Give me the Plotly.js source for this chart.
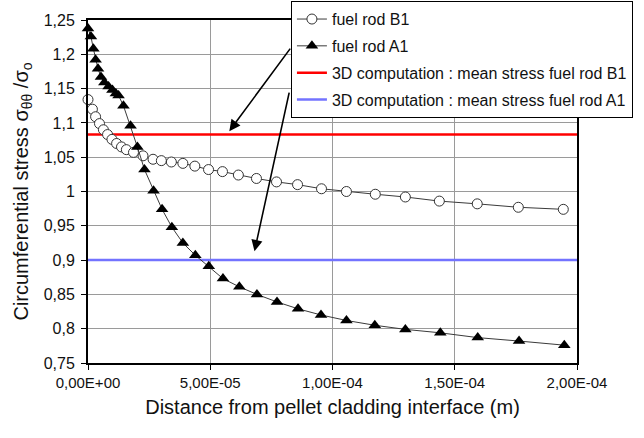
<!DOCTYPE html>
<html>
<head>
<meta charset="utf-8">
<script src="https://cdn.plot.ly/plotly-3.0.1.min.js"></script>
<style>html,body{margin:0;padding:0;background:#fff;}#chart{width:644px;height:438px;}</style>
</head>
<body>
<div id="chart"></div>
<script>
// Distance from pellet cladding interface (m)
const b1X = [0, 1.8e-6, 3.1e-6, 4.7e-6, 6.3e-6, 8.0e-6, 9.8e-6, 1.17e-5, 1.37e-5, 1.57e-5, 1.86e-5, 2.25e-5, 2.66e-5, 3.00e-5, 3.41e-5, 3.88e-5, 4.37e-5, 4.93e-5, 5.50e-5, 6.15e-5, 6.89e-5, 7.71e-5, 8.57e-5, 9.55e-5, 1.057e-4, 1.175e-4, 1.298e-4, 1.437e-4, 1.592e-4, 1.760e-4, 1.944e-4];
const b1Y = [1.134, 1.120, 1.109, 1.099, 1.090, 1.083, 1.076, 1.070, 1.065, 1.061, 1.057, 1.052, 1.047, 1.045, 1.043, 1.041, 1.037, 1.032, 1.029, 1.024, 1.019, 1.014, 1.010, 1.004, 1.000, 0.996, 0.992, 0.986, 0.982, 0.977, 0.974];
const a1X = [0, 1.2e-6, 2.2e-6, 3.1e-6, 4.1e-6, 5.3e-6, 6.7e-6, 8.4e-6, 1.00e-5, 1.14e-5, 1.25e-5, 1.45e-5, 1.74e-5, 2.02e-5, 2.31e-5, 2.68e-5, 3.03e-5, 3.43e-5, 3.88e-5, 4.39e-5, 4.94e-5, 5.52e-5, 6.19e-5, 6.91e-5, 7.73e-5, 8.59e-5, 9.53e-5, 1.057e-4, 1.173e-4, 1.298e-4, 1.441e-4, 1.594e-4, 1.763e-4, 1.948e-4];
const a1Y = [1.2375, 1.226, 1.208, 1.192, 1.179, 1.167, 1.159, 1.153, 1.148, 1.143, 1.140, 1.125, 1.096, 1.065, 1.032, 1.001, 0.974, 0.948, 0.925, 0.907, 0.891, 0.873, 0.861, 0.850, 0.839, 0.829, 0.820, 0.812, 0.805, 0.799, 0.794, 0.787, 0.782, 0.776];
// 3D computation mean stresses
const meanX = [0, 2.0e-4];
const meanB1 = [1.083, 1.083];
const meanA1 = [0.9, 0.9];

const xTickVals = [0, 5e-5, 1e-4, 1.5e-4, 2e-4];
const xTickText = ["0,00E+00", "5,00E-05", "1,00E-04", "1,50E-04", "2,00E-04"];
const yTickVals = [0.75, 0.8, 0.85, 0.9, 0.95, 1, 1.05, 1.1, 1.15, 1.2, 1.25];
const yTickText = ["0,75", "0,8", "0,85", "0,9", "0,95", "1", "1,05", "1,1", "1,15", "1,2", "1,25"];

const seriesNames = ["fuel rod B1", "fuel rod A1", "3D computation : mean stress fuel rod B1", "3D computation : mean stress fuel rod A1"];

const FONT = "Liberation Sans, Arial, sans-serif";

const traces = [
  {x: meanX, y: meanB1, name: seriesNames[2], mode: "lines", line: {color: "#ff0000", width: 2.5}, legendrank: 3, legendgroup: "c", hoverinfo: "skip"},
  {x: meanX, y: meanA1, name: seriesNames[3], mode: "lines", line: {color: "#7373ff", width: 2.5}, legendrank: 4, legendgroup: "d", hoverinfo: "skip"},
  {x: b1X, y: b1Y, name: seriesNames[0], mode: "lines+markers", cliponaxis: false,
   line: {color: "#3a3a3a", width: 1},
   marker: {symbol: "circle", size: 10, color: "#ffffff", line: {color: "#333333", width: 1}},
   legendrank: 1, legendgroup: "a"},
  {x: a1X, y: a1Y, name: seriesNames[1], mode: "lines+markers", cliponaxis: false,
   line: {color: "#3a3a3a", width: 1},
   marker: {symbol: "triangle-up", size: 11, color: "#000000"},
   legendrank: 2, legendgroup: "b"}
];

const layout = {
  width: 644, height: 438,
  margin: {l: 88, r: 67, t: 20, b: 75, pad: 0, autoexpand: false},
  paper_bgcolor: "#ffffff", plot_bgcolor: "#ffffff",
  font: {family: FONT, size: 15, color: "#111111"},
  showlegend: true,
  legend: {
    x: 0.415, y: 1.055, xanchor: "left", yanchor: "top",
    bgcolor: "#ffffff", bordercolor: "#000000", borderwidth: 1,
    font: {family: FONT, size: 16, color: "#111111"},
    traceorder: "grouped", tracegroupgap: 3, itemwidth: 30
  },
  xaxis: {
    range: [0, 2e-4], tickvals: xTickVals, ticktext: xTickText,
    showgrid: true, gridcolor: "#9a9a9a", gridwidth: 1,
    showline: true, linecolor: "#000000", linewidth: 2, mirror: true,
    ticks: "outside", ticklen: 5, tickcolor: "#000000", tickwidth: 1,
    zeroline: false, tickfont: {family: FONT, size: 15, color: "#111111"},
    title: {text: "Distance from pellet cladding interface (m)", font: {family: FONT, size: 20, color: "#111111"}, standoff: 10}
  },
  yaxis: {
    range: [0.75, 1.25], tickvals: yTickVals, ticktext: yTickText,
    showgrid: true, gridcolor: "#9a9a9a", gridwidth: 1,
    showline: true, linecolor: "#000000", linewidth: 2, mirror: true,
    ticks: "outside", ticklen: 5, tickcolor: "#000000", tickwidth: 1,
    ticklabelstandoff: 3,
    zeroline: false, tickfont: {family: FONT, size: 16, color: "#111111"},
    title: {text: "Circumferential stress σ<sub>θθ</sub> /σ<sub>o</sub>", font: {family: FONT, size: 20, color: "#111111"}, standoff: 10}
  },
  annotations: [
    {x: 5.78e-5, y: 1.088, xref: "x", yref: "y", text: "", showarrow: true,
     ax: 62, ay: -84, axref: "pixel", ayref: "pixel",
     arrowhead: 2, arrowsize: 1.4, arrowwidth: 1.6, arrowcolor: "#000000"},
    {x: 6.81e-5, y: 0.913, xref: "x", yref: "y", text: "", showarrow: true,
     ax: 35, ay: -160, axref: "pixel", ayref: "pixel",
     arrowhead: 2, arrowsize: 1.4, arrowwidth: 1.6, arrowcolor: "#000000"}
  ]
};

Plotly.newPlot("chart", traces, layout, {staticPlot: true, displayModeBar: false});
</script>
</body>
</html>
